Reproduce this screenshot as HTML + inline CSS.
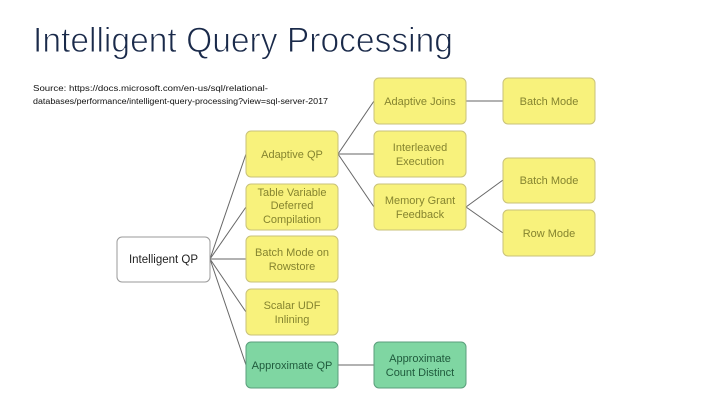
<!DOCTYPE html>
<html><head><meta charset="utf-8"><style>
html,body{margin:0;padding:0;background:#fff;width:720px;height:405px;overflow:hidden}
svg{display:block}
text{font-family:"Liberation Sans",sans-serif}
.y{fill:#f8f27c;stroke:#c9c27a;stroke-width:1}
.g{fill:#7fd6a2;stroke:#5b9f7c;stroke-width:1}
.w{fill:#fff;stroke:#9a9a9a;stroke-width:1}
.ty{fill:#85842f;font-size:11px;text-anchor:middle}
.tg{fill:#1f5a3c;font-size:11px;text-anchor:middle}
.tw{fill:#222;font-size:11.5px;text-anchor:middle}
line{stroke:#666;stroke-width:1}
</style></head><body>
<svg width="720" height="405" viewBox="0 0 720 405">
<text x="33" y="52" font-size="35" fill="#1a2a4a" stroke="#fff" stroke-width="0.9" textLength="420" lengthAdjust="spacingAndGlyphs">Intelligent Query Processing</text>
<text x="33" y="91" font-size="8" fill="#111" textLength="235" lengthAdjust="spacingAndGlyphs">Source: https://docs.microsoft.com/en-us/sql/relational-</text>
<text x="33" y="104" font-size="8" fill="#111" textLength="295" lengthAdjust="spacingAndGlyphs">databases/performance/intelligent-query-processing?view=sql-server-2017</text>

<line x1="210" y1="259" x2="246" y2="154"/>
<line x1="210" y1="259" x2="246" y2="207"/>
<line x1="210" y1="259" x2="246" y2="259"/>
<line x1="210" y1="259" x2="246" y2="312"/>
<line x1="210" y1="259" x2="246" y2="365"/>
<line x1="338" y1="154" x2="374" y2="101"/>
<line x1="338" y1="154" x2="374" y2="154"/>
<line x1="338" y1="154" x2="374" y2="207"/>
<line x1="466" y1="101" x2="503" y2="101"/>
<line x1="466" y1="207" x2="503" y2="180"/>
<line x1="466" y1="207" x2="503" y2="233"/>
<line x1="338" y1="365" x2="374" y2="365"/>

<rect class="w" x="117" y="237" width="93" height="45" rx="5"/>
<text class="tw" x="163.5" y="263">Intelligent QP</text>

<rect class="y" x="246" y="131" width="92" height="46" rx="5"/>
<text class="ty" x="292" y="158">Adaptive QP</text>
<rect class="y" x="246" y="184" width="92" height="46" rx="5"/>
<text class="ty" x="292" y="196">Table Variable</text>
<text class="ty" x="292" y="209">Deferred</text>
<text class="ty" x="292" y="223">Compilation</text>
<rect class="y" x="246" y="236" width="92" height="46" rx="5"/>
<text class="ty" x="292" y="256">Batch Mode on</text>
<text class="ty" x="292" y="270">Rowstore</text>
<rect class="y" x="246" y="289" width="92" height="46" rx="5"/>
<text class="ty" x="292" y="309">Scalar UDF</text>
<text class="ty" x="292" y="323">Inlining</text>
<rect class="g" x="246" y="342" width="92" height="46" rx="5"/>
<text class="tg" x="292" y="369">Approximate QP</text>

<rect class="y" x="374" y="78" width="92" height="46" rx="5"/>
<text class="ty" x="420" y="105">Adaptive Joins</text>
<rect class="y" x="374" y="131" width="92" height="46" rx="5"/>
<text class="ty" x="420" y="151">Interleaved</text>
<text class="ty" x="420" y="165">Execution</text>
<rect class="y" x="374" y="184" width="92" height="46" rx="5"/>
<text class="ty" x="420" y="204">Memory Grant</text>
<text class="ty" x="420" y="218">Feedback</text>
<rect class="g" x="374" y="342" width="92" height="46" rx="5"/>
<text class="tg" x="420" y="362">Approximate</text>
<text class="tg" x="420" y="376">Count Distinct</text>

<rect class="y" x="503" y="78" width="92" height="46" rx="5"/>
<text class="ty" x="549" y="105">Batch Mode</text>
<rect class="y" x="503" y="158" width="92" height="45" rx="5"/>
<text class="ty" x="549" y="184">Batch Mode</text>
<rect class="y" x="503" y="210" width="92" height="46" rx="5"/>
<text class="ty" x="549" y="237">Row Mode</text>
</svg>
</body></html>
